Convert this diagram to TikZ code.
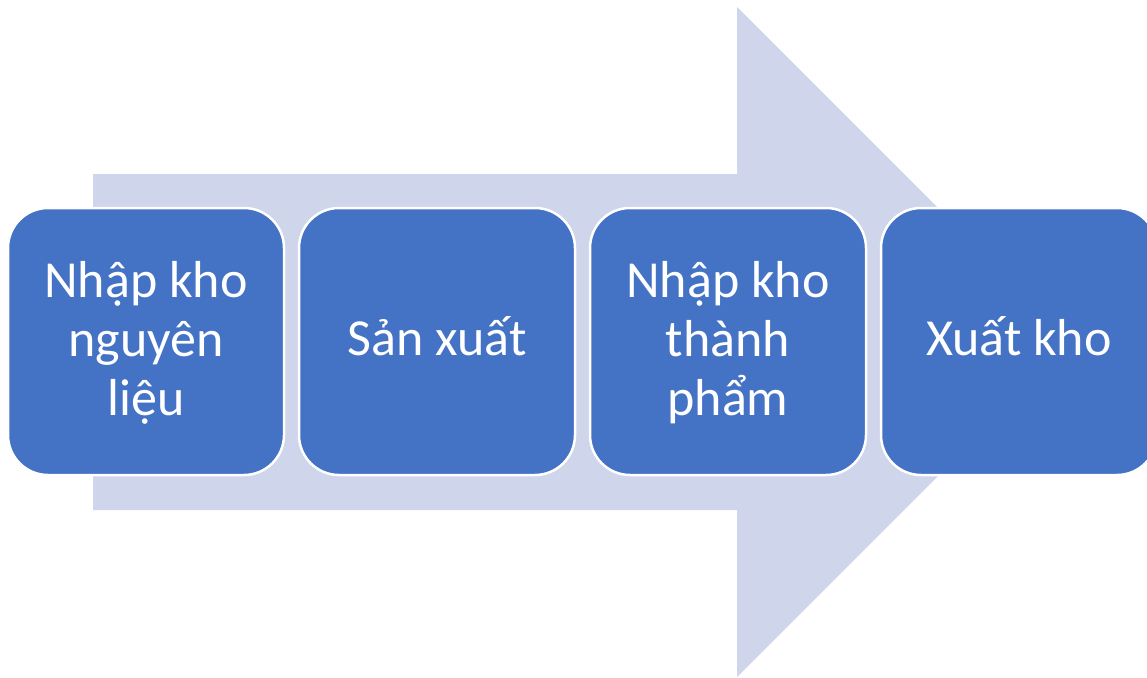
\documentclass[tikz,border=0pt]{standalone}
\usepackage{fontspec}
\setmainfont{Carlito}
\definecolor{boxblue}{HTML}{4472C4}
\definecolor{arrowfill}{HTML}{CFD5EA}
\begin{document}
\begin{tikzpicture}[x=1pt,y=-1pt,
  stepbox/.style={draw=white, line width=2.5pt, fill=boxblue, rounded corners=40pt,
    minimum width=276pt, minimum height=267pt, inner sep=0pt, outer sep=0pt},
  lbl/.style={text=white, font=\fontsize{52}{59}\selectfont, align=center, inner sep=0pt, anchor=base}]
\useasboundingbox (0,0) rectangle (1147,677);
\begin{scope}
\clip (0,0) rectangle (1147,677);
\fill[arrowfill] (93,174) -- (737,174) -- (737,7) -- (1072,342) -- (737,677) -- (737,510) -- (93,510) -- cycle;
\node[stepbox] (b1) at (146,341.5) {};
\node[stepbox] (b2) at (437,341.5) {};
\node[stepbox] (b3) at (728,341.5) {};
\node[stepbox] (b4) at (1019,341.5) {};
\node[lbl] (t1) at (146,415) {Nhập kho\\nguyên\\liệu};
\node[lbl] (t2) at (437,355) {Sản xuất};
\node[lbl] (t3) at (728,415) {Nhập kho\\thành\\phẩm};
\node[lbl] (t4) at (1019,355) {Xuất kho};
\end{scope}
\end{tikzpicture}
\end{document}
